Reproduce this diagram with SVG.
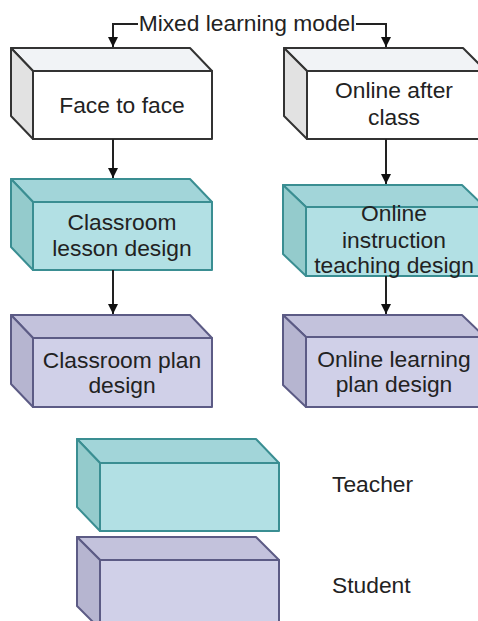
<svg xmlns="http://www.w3.org/2000/svg" width="478" height="621" viewBox="0 0 478 621">
<defs>
<style>
text{font-family:"Liberation Sans",Arial,sans-serif;font-size:22.8px;fill:#222;text-anchor:middle}
.lbl{text-anchor:start}
.w .t{fill:#f1f3f6}.w .s{fill:#e2e2e2}.w .f{fill:#ffffff}.w *{stroke:#333}
.c .t{fill:#a2d5d9}.c .s{fill:#94cbcc}.c .f{fill:#b2e0e4}.c *{stroke:#3a8e92}
.p .t{fill:#c3c2dc}.p .s{fill:#b6b5d0}.p .f{fill:#d0d0e8}.p *{stroke:#5c5b85}
.t,.s,.f{stroke-width:2;stroke-linejoin:round}
.c text,.p text,.w text{stroke:none}
.conn path{fill:none;stroke:#222;stroke-width:2}
</style>
<marker id="ah" viewBox="0 0 10 10" refX="10" refY="5" markerWidth="5" markerHeight="5" orient="auto" markerUnits="strokeWidth">
<path d="M0,0 L10,5 L0,10 Z" fill="#111"/>
</marker>
</defs>
<rect width="478" height="621" fill="#fff"/>

<g id="face" class="w">
<polygon class="t" points="11,48 190,48 212,71 33,71"/>
<polygon class="s" points="11,48 33,71 33,139 11,116"/>
<rect class="f" x="33" y="71" width="179" height="68"/>
<text x="122" y="113">Face to face</text>
</g>

<g id="online" class="w">
<polygon class="t" points="284,48 463,48 486,71 307,71"/>
<polygon class="s" points="284,48 307,71 307,139 284,116"/>
<rect class="f" x="307" y="71" width="179" height="68"/>
<text x="394" y="98">Online after</text>
<text x="394" y="125">class</text>
</g>

<g id="lesson" class="c">
<polygon class="t" points="11,179 190,179 212,202 33,202"/>
<polygon class="s" points="11,179 33,202 33,270 11,247"/>
<rect class="f" x="33" y="202" width="179" height="68"/>
<text x="122" y="230">Classroom</text>
<text x="122" y="256">lesson design</text>
</g>

<g id="instruction" class="c">
<polygon class="t" points="283,185 462,185 485,207 306,207"/>
<polygon class="s" points="283,185 306,207 306,276 283,254"/>
<rect class="f" x="306" y="207" width="179" height="69"/>
<text x="394" y="221">Online</text>
<text x="394" y="248">instruction</text>
<text x="394" y="273">teaching design</text>
</g>

<g id="plan" class="p">
<polygon class="t" points="11,315 190,315 212,338 33,338"/>
<polygon class="s" points="11,315 33,338 33,407 11,384"/>
<rect class="f" x="33" y="338" width="179" height="69"/>
<text x="122" y="368">Classroom plan</text>
<text x="122" y="393">design</text>
</g>

<g id="onlineplan" class="p">
<polygon class="t" points="283,315 462,315 485,337 306,337"/>
<polygon class="s" points="283,315 306,337 306,407 283,385"/>
<rect class="f" x="306" y="337" width="179" height="70"/>
<text x="394" y="367">Online learning</text>
<text x="394" y="392">plan design</text>
</g>

<g id="legend-teacher" class="c">
<polygon class="t" points="77,439 256,439 279,463 100,463"/>
<polygon class="s" points="77,439 100,463 100,531 77,507"/>
<rect class="f" x="100" y="463" width="179" height="68"/>
</g>
<text class="lbl" x="332" y="492">Teacher</text>

<g id="legend-student" class="p">
<polygon class="t" points="77,537 256,537 279,560 100,560"/>
<polygon class="s" points="77,537 100,560 100,629 77,606"/>
<rect class="f" x="100" y="560" width="179" height="69"/>
</g>
<text class="lbl" x="332" y="593">Student</text>

<g id="title">
<text x="247" y="31">Mixed learning model</text>
</g>

<g class="conn" id="connectors">
<path d="M138,24 H113 V47" marker-end="url(#ah)"/>
<path d="M356,24 H386 V47" marker-end="url(#ah)"/>
<path d="M113,139 V178" marker-end="url(#ah)"/>
<path d="M386,139 V184" marker-end="url(#ah)"/>
<path d="M113,270 V314" marker-end="url(#ah)"/>
<path d="M386,276 V314" marker-end="url(#ah)"/>
</g>
</svg>
